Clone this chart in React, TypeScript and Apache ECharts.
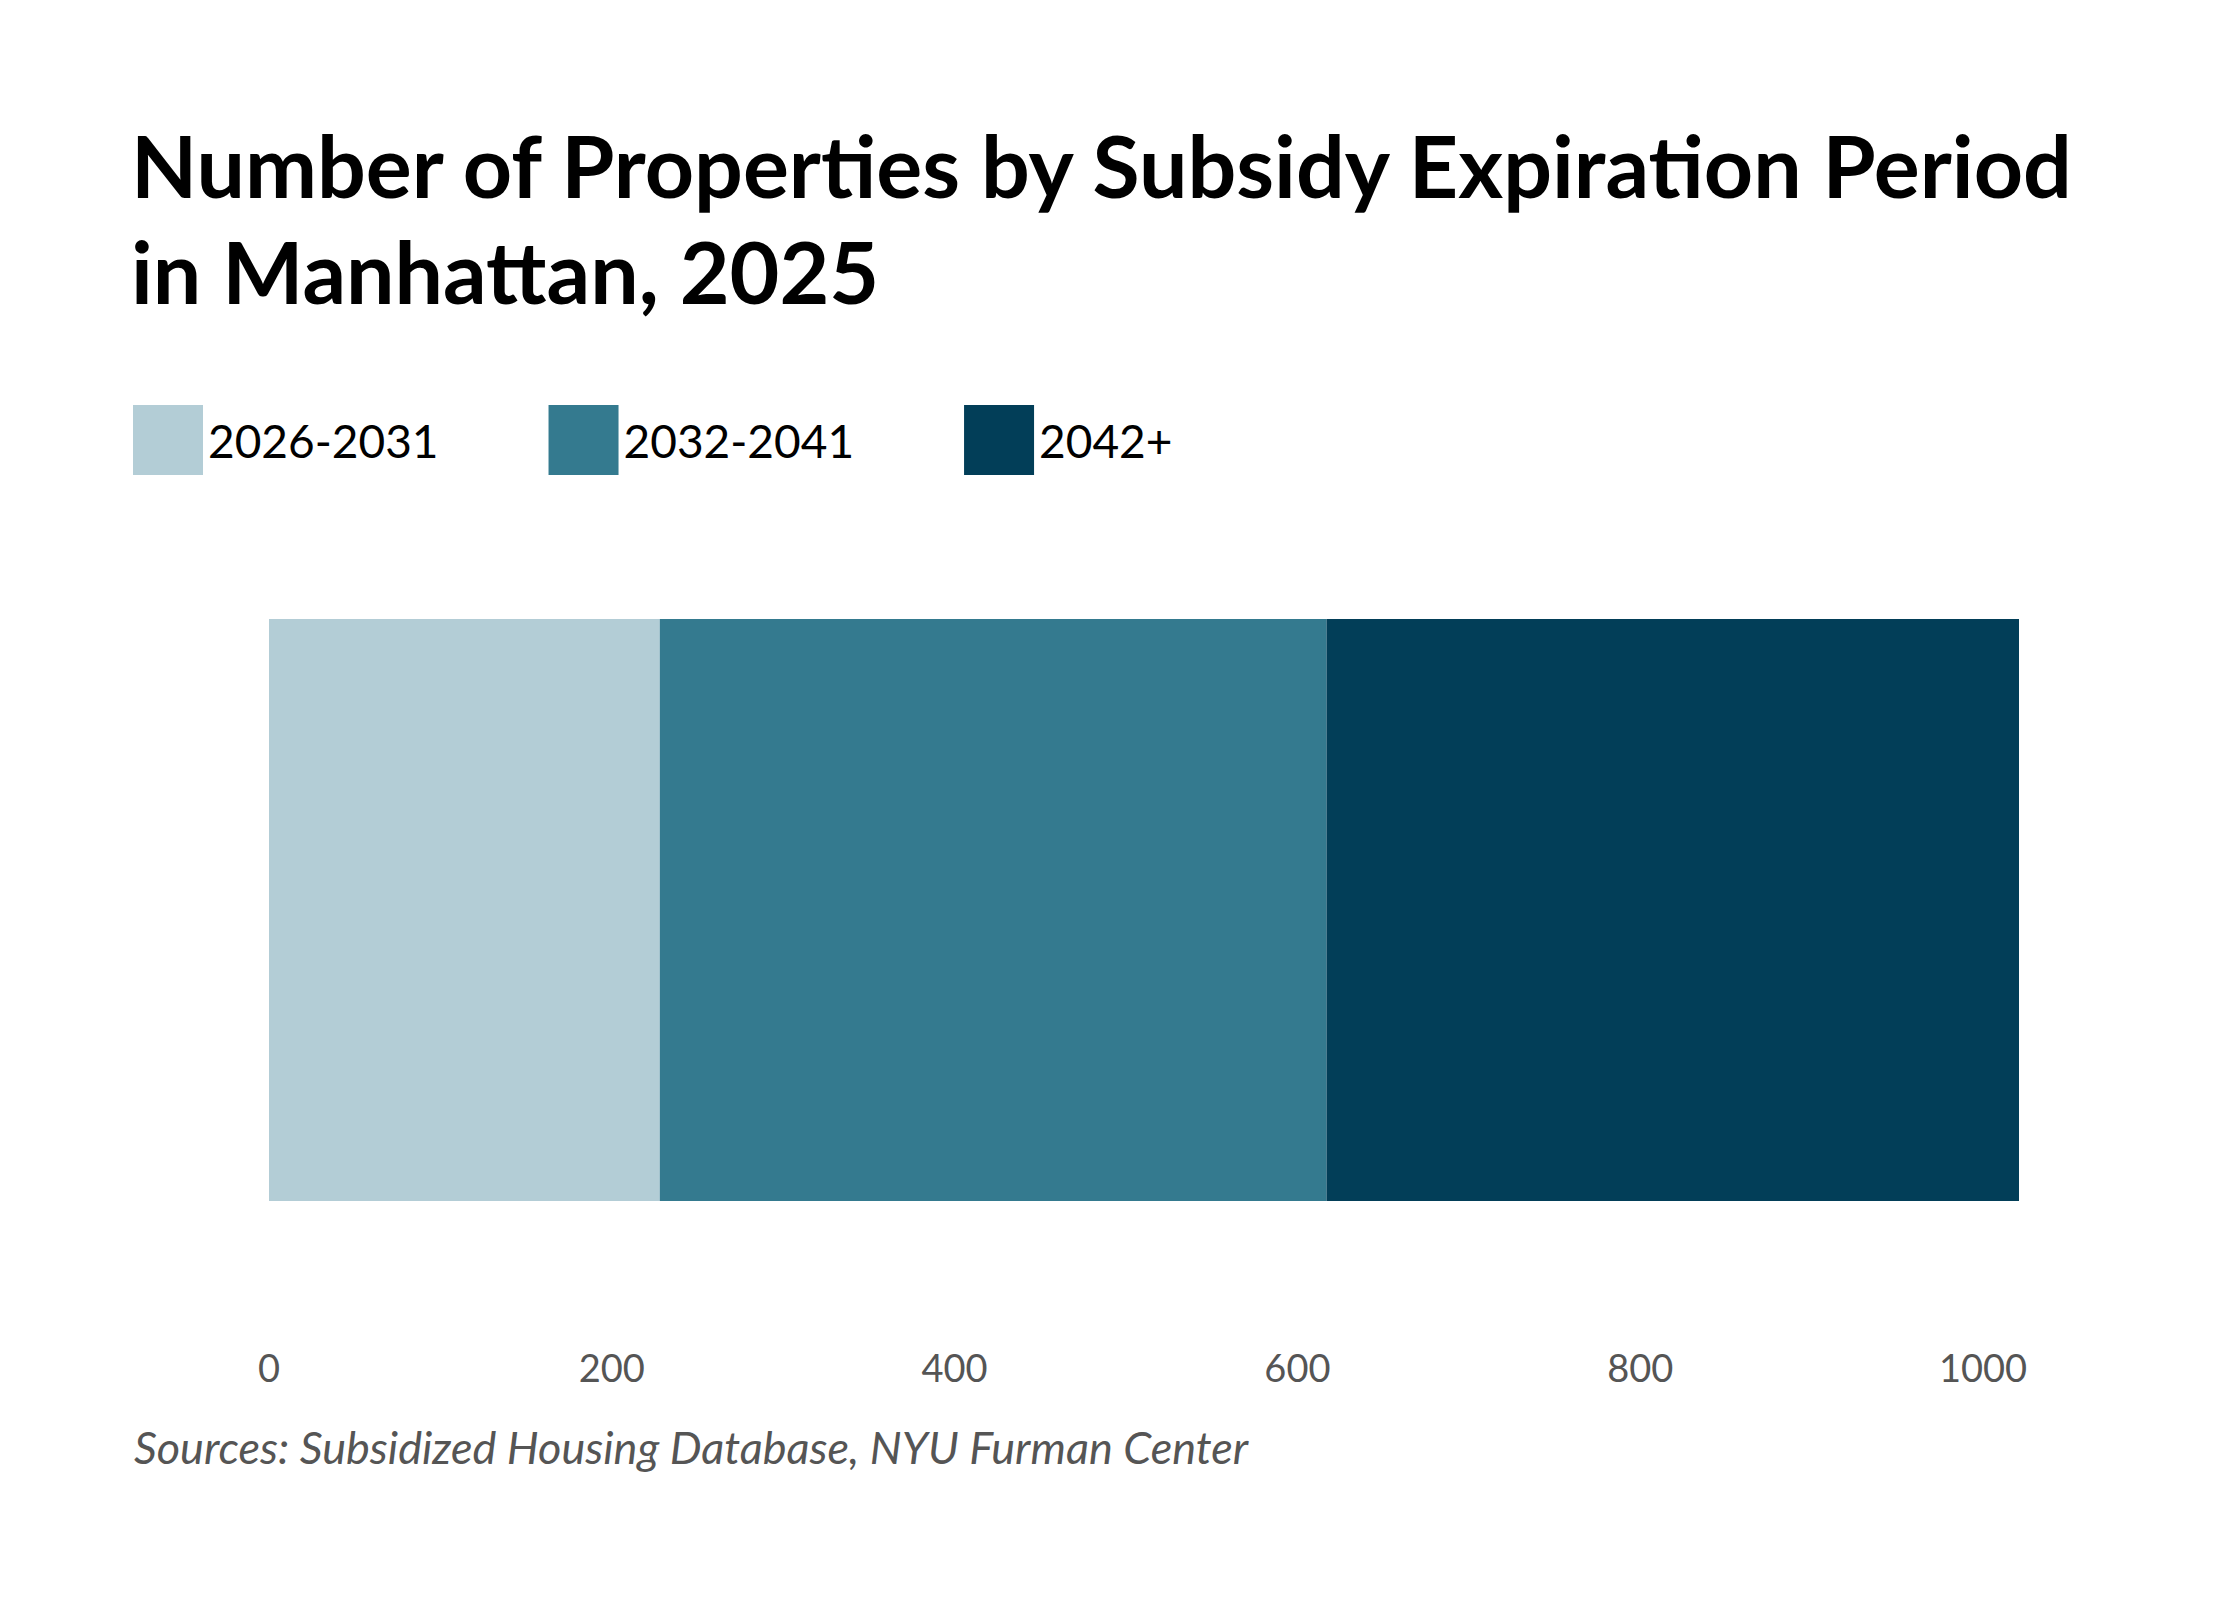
import React, { useEffect, useRef } from 'react';
import * as echarts from 'echarts';

const categories = ['Manhattan'];
const periods = ['2026-2031', '2032-2041', '2042+'];
const values = [228, 389, 404];
const colors = ['#b3cdd6', '#347a8f', '#023e58'];

export default function App() {
  const ref = useRef<HTMLDivElement>(null);

  useEffect(() => {
    if (!ref.current) return;
    const chart = echarts.init(ref.current, undefined, { renderer: 'svg' });
    chart.setOption({
      animation: false,
      backgroundColor: '#fff',
      textStyle: { fontFamily: 'Lato, sans-serif' },
      title: {
        text: 'Number of Properties by Subsidy Expiration Period\nin Manhattan, 2025',
        left: 118,
        top: 98,
        textStyle: { fontSize: 86, fontWeight: 'bold', color: '#000', lineHeight: 106 },
      },
      legend: {
        data: periods,
        left: 120,
        top: 392,
        icon: 'rect',
        itemWidth: 70,
        itemHeight: 70,
        itemGap: 110,
        textStyle: { fontSize: 46, color: '#000' },
      },
      grid: { left: 261, right: 213, top: 602, bottom: 398 },
      xAxis: {
        type: 'value',
        min: 0,
        max: 1021,
        interval: 200,
        splitLine: { show: false },
        axisLine: { show: false },
        axisTick: { show: false },
        axisLabel: { fontSize: 38, color: '#555', margin: 138, formatter: (v: number) => String(v) },
      },
      yAxis: { type: 'category', data: categories, show: false },
      series: periods.map((p, i) => ({
        name: p,
        type: 'bar',
        stack: 'total',
        data: [values[i]],
        barWidth: '97%',
        itemStyle: { color: colors[i] },
      })),
      graphic: [
        {
          type: 'text',
          left: 126,
          top: 1416,
          style: {
            text: 'Sources: Subsidized Housing Database, NYU Furman Center',
            fontSize: 45,
            fontStyle: 'italic',
            fill: '#555',
            fontFamily: 'Lato, sans-serif',
          },
        },
      ],
    });
    return () => chart.dispose();
  }, []);

  return <div ref={ref} style={{ width: 2224, height: 1600 }} />;
}
